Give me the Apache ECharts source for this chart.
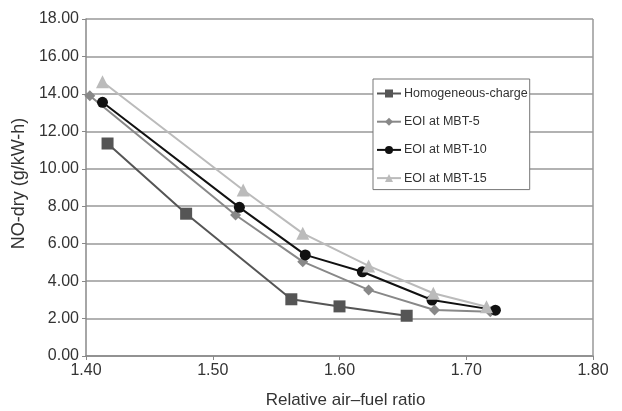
<!DOCTYPE html>
<html>
<head>
<meta charset="utf-8">
<script src="https://cdn.jsdelivr.net/npm/echarts@6/dist/echarts.min.js"></script>
<style>
  html, body { margin: 0; padding: 0; background: #fff; }
  #chart { width: 622px; height: 411px; }
</style>
</head>
<body>
<div id="chart"></div>
<script>
// data
const seriesNames = ['Homogeneous-charge', 'EOI at MBT-5', 'EOI at MBT-10', 'EOI at MBT-15'];

const homogeneous = [[1.417, 11.35], [1.479, 7.6], [1.562, 3.03], [1.600, 2.65], [1.653, 2.15]];
const mbt5 = [[1.403, 13.9], [1.518, 7.53], [1.571, 5.04], [1.623, 3.53], [1.675, 2.46], [1.719, 2.37]];
const mbt10 = [[1.413, 13.55], [1.521, 7.94], [1.573, 5.4], [1.618, 4.5], [1.673, 2.99], [1.723, 2.45]];
const mbt15 = [[1.413, 14.65], [1.524, 8.87], [1.571, 6.55], [1.623, 4.81], [1.674, 3.35], [1.716, 2.63]];

const chart = echarts.init(document.getElementById('chart'));

// 系列的通用样式
const mkSeries = (name, data, color, symbol, size) => ({
  name,
  type: 'line',
  data,
  symbol,
  symbolSize: size,
  lineStyle: { width: 2, color },
  itemStyle: { color },
  animation: false
});

const option = {
  backgroundColor: '#fff',
  grid: { left: 86, right: 29, top: 19, bottom: 55, outerBoundsMode: 'none' },
  legend: {
    data: seriesNames,
    orient: 'vertical',
    left: 373,
    top: 79,
    backgroundColor: '#fff',
    borderColor: '#777',
    borderWidth: 1,
    padding: [8, 2, 5, 3],
    itemGap: 15.2,
    itemWidth: 24,
    itemHeight: 10,
    textStyle: { fontFamily: 'Liberation Sans', fontSize: 12.5, color: '#333', padding: [0, 0, 0, -2] }
  },
  xAxis: {
    type: 'value',
    min: 1.4,
    max: 1.8,
    interval: 0.1,
    name: 'Relative air\u2013fuel ratio',
    nameLocation: 'middle',
    nameGap: 36,
    nameTextStyle: { fontFamily: 'Liberation Sans', fontSize: 17, color: '#333', padding: [0, 0, 0, 12] },
    axisLine: { lineStyle: { color: '#888', width: 1.5 } },
    axisTick: { show: true, length: 4, lineStyle: { color: '#888' } },
    axisLabel: {
      fontFamily: 'Liberation Sans', fontSize: 16, color: '#333', margin: 7,
      formatter: v => v.toFixed(2)
    },
    splitLine: { show: false }
  },
  yAxis: {
    type: 'value',
    min: 0,
    max: 18,
    interval: 2,
    name: 'NO-dry (g/kW-h)',
    nameLocation: 'middle',
    nameGap: 52,
    nameTextStyle: { fontFamily: 'Liberation Sans', fontSize: 18, color: '#333', padding: [0, 0, 0, 8] },
    axisLine: { show: true, lineStyle: { color: '#888', width: 1.5 } },
    axisTick: { show: true, length: 4, lineStyle: { color: '#888' } },
    axisLabel: {
      fontFamily: 'Liberation Sans', fontSize: 16, color: '#333', margin: 7,
      formatter: v => v.toFixed(2)
    },
    splitLine: { show: true, lineStyle: { color: '#999', width: 1.5 } }
  },
  series: [
    mkSeries(seriesNames[0], homogeneous, '#555', 'rect', 12),
    mkSeries(seriesNames[1], mbt5, '#888', 'diamond', 11),
    mkSeries(seriesNames[2], mbt10, '#111', 'circle', 11),
    mkSeries(seriesNames[3], mbt15, '#bbb', 'triangle', 13),
    // right border line of the plot
    {
      type: 'line',
      data: [[1.8, 0], [1.8, 18]],
      symbol: 'none',
      lineStyle: { color: '#999', width: 1.5 },
      silent: true,
      animation: false
    }
  ]
};

chart.setOption(option);
</script>
</body>
</html>
